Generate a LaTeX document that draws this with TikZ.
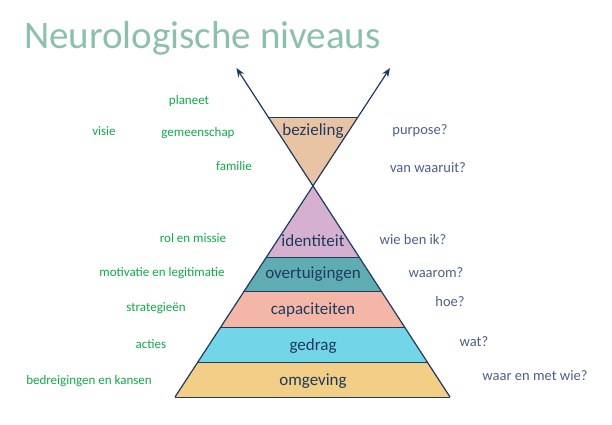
\documentclass[tikz,border=0pt]{standalone}
\usepackage{fontspec}
\setmainfont{Carlito}
\usetikzlibrary{arrows.meta}
\definecolor{navy}{HTML}{1F3A5F}
\definecolor{gr}{HTML}{12A84A}
\definecolor{bl}{HTML}{4E5F85}
\definecolor{ttl}{HTML}{8DBFAE}
\begin{document}
\begin{tikzpicture}[x=1pt,y=-1pt,
 lt/.style={text=navy,font=\fontsize{17}{19}\selectfont},
 g/.style={text=gr,font=\fontsize{13}{15}\selectfont},
 b/.style={text=bl,font=\fontsize{14.5}{16}\selectfont}]
\useasboundingbox (0,0) rectangle (612,424);
\node[anchor=west,text=ttl,font=\fontsize{39}{44}\selectfont,inner sep=0pt] (title) at (24,38) {Neurologische niveaus};
% layers
\fill[fill={rgb,255:red,232;green,196;blue,164}] (268.2,117) -- (358,117) -- (313,186) -- cycle;
\fill[fill={rgb,255:red,213;green,176;blue,208}] (313,186) -- (266.6,257) -- (359.1,257) -- cycle;
\fill[fill={rgb,255:red,95;green,173;blue,179}] (266.6,257) -- (244.3,291) -- (381.1,291) -- (359.1,257) -- cycle;
\fill[fill={rgb,255:red,244;green,182;blue,166}] (244.3,291) -- (220.8,327) -- (404.5,327) -- (381.1,291) -- cycle;
\fill[fill={rgb,255:red,114;green,213;blue,232}] (220.8,327) -- (197.9,362) -- (427.2,362) -- (404.5,327) -- cycle;
\fill[fill={rgb,255:red,242;green,206;blue,134}] (197.9,362) -- (175,397) -- (450,397) -- (427.2,362) -- cycle;
\foreach \y/\l/\r in {117/268.2/358,257/266.6/359.1,291/244.3/381.1,327/220.8/404.5,362/197.9/427.2,397/175/450}
 \draw[navy,line width=0.5pt] (\l,\y) -- (\r,\y);
\coordinate (bl) at (175,397); \coordinate (br) at (450,397);
\coordinate (al) at (236.4,68); \coordinate (ar) at (390,68);
\draw[navy,line width=1.2pt,-{Stealth[length=9pt,width=7pt]}] (br) -- (al);
\draw[navy,line width=1.2pt,-{Stealth[length=9pt,width=7pt]}] (bl) -- (ar);
\node[lt] (n1) at (313,131) {bezieling};
\node[lt] (n2) at (313,241) {identiteit};
\node[lt] (n3) at (313,274) {overtuigingen};
\node[lt] (n4) at (313,310) {capaciteiten};
\node[lt] (n5) at (313,346) {gedrag};
\node[lt] (n6) at (313,381) {omgeving};
\node[g] (g1) at (189,101) {planeet};
\node[g] (g2) at (104,131) {visie};
\node[g] (g3) at (198,133) {gemeenschap};
\node[g] (g4) at (234,166) {familie};
\node[g] (g5) at (193,238) {rol en missie};
\node[g] (g6) at (162,273) {motivatie en legitimatie};
\node[g] (g7) at (156,308) {strategieën};
\node[g] (g8) at (151,344) {acties};
\node[g] (g9) at (89,381) {bedreigingen en kansen};
\node[b] (b1) at (420,131) {purpose?};
\node[b] (b2) at (428,168) {van waaruit?};
\node[b] (b3) at (413,240) {wie ben ik?};
\node[b] (b4) at (436,273) {waarom?};
\node[b] (b5) at (450,302) {hoe?};
\node[b] (b6) at (474,342) {wat?};
\node[b] (b7) at (535,376) {waar en met wie?};
\end{tikzpicture}
\end{document}
